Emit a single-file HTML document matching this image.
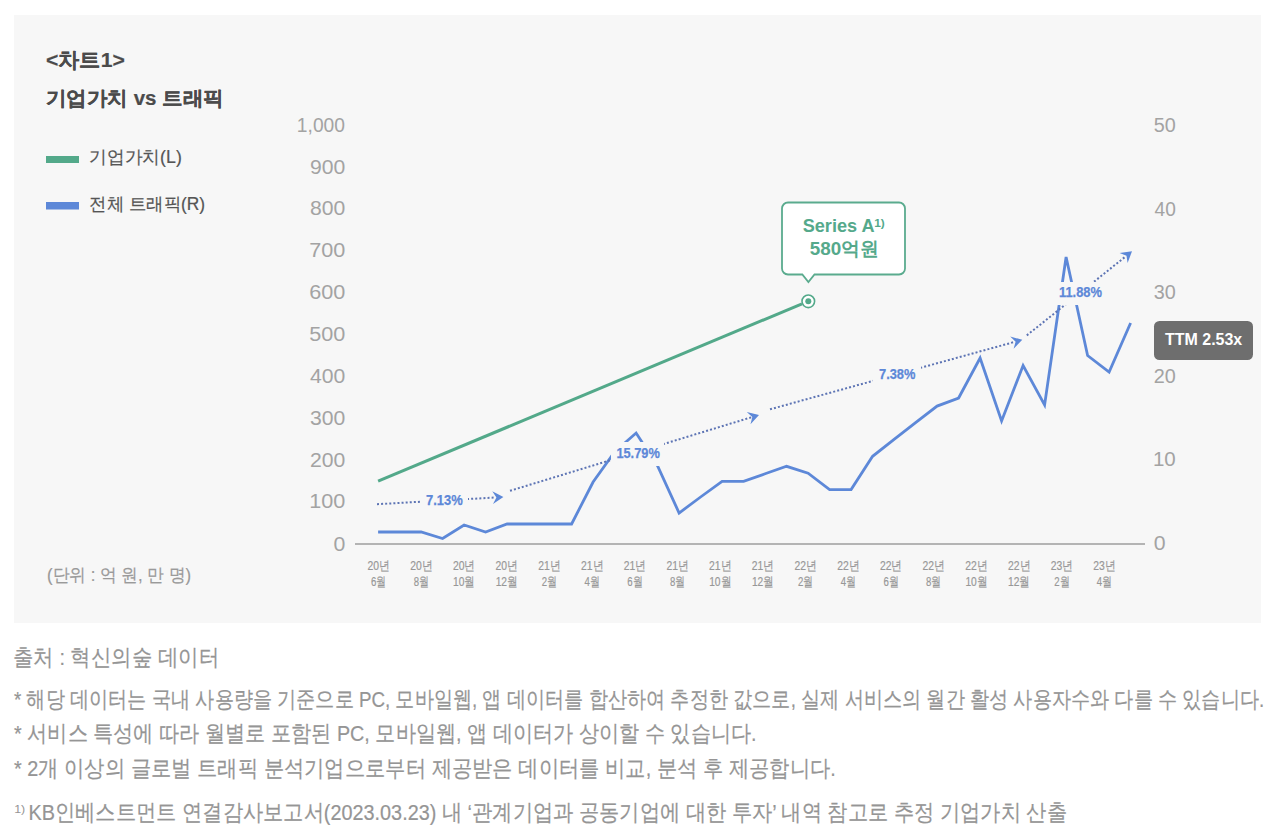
<!DOCTYPE html>
<html><head><meta charset="utf-8">
<style>
html,body{margin:0;padding:0;background:#fff;}
body{width:1270px;height:840px;position:relative;overflow:hidden;font-family:"Liberation Sans",sans-serif;}
svg{position:absolute;left:0;top:0;}
</style></head>
<body>
<svg width="1270" height="840" viewBox="0 0 1270 840" font-family="Liberation Sans, sans-serif">
<rect x="14" y="15" width="1247" height="608" fill="#f7f7f7"/>
<rect x="46" y="156" width="33" height="7" fill="#53a98a"/>
<rect x="46" y="202" width="33" height="7.5" fill="#5d88d8"/>
<line x1="355" y1="544" x2="1145" y2="544" stroke="#b4b4b4" stroke-width="2"/>
<g font-size="12.5" fill="#979797" stroke="#979797" stroke-width="0.2">
<text x="367.5" y="569.8" textLength="22.3" lengthAdjust="spacingAndGlyphs">20년</text><text x="371.0" y="585.8" textLength="15.3" lengthAdjust="spacingAndGlyphs">6월</text>
<text x="410.2" y="569.8" textLength="22.3" lengthAdjust="spacingAndGlyphs">20년</text><text x="413.7" y="585.8" textLength="15.3" lengthAdjust="spacingAndGlyphs">8월</text>
<text x="452.9" y="569.8" textLength="22.3" lengthAdjust="spacingAndGlyphs">20년</text><text x="453.0" y="585.8" textLength="22.0" lengthAdjust="spacingAndGlyphs">10월</text>
<text x="495.6" y="569.8" textLength="22.3" lengthAdjust="spacingAndGlyphs">20년</text><text x="495.7" y="585.8" textLength="22.0" lengthAdjust="spacingAndGlyphs">12월</text>
<text x="538.3" y="569.8" textLength="22.3" lengthAdjust="spacingAndGlyphs">21년</text><text x="541.8" y="585.8" textLength="15.3" lengthAdjust="spacingAndGlyphs">2월</text>
<text x="581.0" y="569.8" textLength="22.3" lengthAdjust="spacingAndGlyphs">21년</text><text x="584.5" y="585.8" textLength="15.3" lengthAdjust="spacingAndGlyphs">4월</text>
<text x="623.7" y="569.8" textLength="22.3" lengthAdjust="spacingAndGlyphs">21년</text><text x="627.2" y="585.8" textLength="15.3" lengthAdjust="spacingAndGlyphs">6월</text>
<text x="666.4" y="569.8" textLength="22.3" lengthAdjust="spacingAndGlyphs">21년</text><text x="669.9" y="585.8" textLength="15.3" lengthAdjust="spacingAndGlyphs">8월</text>
<text x="709.1" y="569.8" textLength="22.3" lengthAdjust="spacingAndGlyphs">21년</text><text x="709.2" y="585.8" textLength="22.0" lengthAdjust="spacingAndGlyphs">10월</text>
<text x="751.8" y="569.8" textLength="22.3" lengthAdjust="spacingAndGlyphs">21년</text><text x="751.9" y="585.8" textLength="22.0" lengthAdjust="spacingAndGlyphs">12월</text>
<text x="794.5" y="569.8" textLength="22.3" lengthAdjust="spacingAndGlyphs">22년</text><text x="798.0" y="585.8" textLength="15.3" lengthAdjust="spacingAndGlyphs">2월</text>
<text x="837.2" y="569.8" textLength="22.3" lengthAdjust="spacingAndGlyphs">22년</text><text x="840.7" y="585.8" textLength="15.3" lengthAdjust="spacingAndGlyphs">4월</text>
<text x="879.9" y="569.8" textLength="22.3" lengthAdjust="spacingAndGlyphs">22년</text><text x="883.4" y="585.8" textLength="15.3" lengthAdjust="spacingAndGlyphs">6월</text>
<text x="922.6" y="569.8" textLength="22.3" lengthAdjust="spacingAndGlyphs">22년</text><text x="926.1" y="585.8" textLength="15.3" lengthAdjust="spacingAndGlyphs">8월</text>
<text x="965.3" y="569.8" textLength="22.3" lengthAdjust="spacingAndGlyphs">22년</text><text x="965.4" y="585.8" textLength="22.0" lengthAdjust="spacingAndGlyphs">10월</text>
<text x="1008.0" y="569.8" textLength="22.3" lengthAdjust="spacingAndGlyphs">22년</text><text x="1008.1" y="585.8" textLength="22.0" lengthAdjust="spacingAndGlyphs">12월</text>
<text x="1050.7" y="569.8" textLength="22.3" lengthAdjust="spacingAndGlyphs">23년</text><text x="1054.2" y="585.8" textLength="15.3" lengthAdjust="spacingAndGlyphs">2월</text>
<text x="1093.3" y="569.8" textLength="22.3" lengthAdjust="spacingAndGlyphs">23년</text><text x="1096.8" y="585.8" textLength="15.3" lengthAdjust="spacingAndGlyphs">4월</text>
</g>
<polyline fill="none" stroke="#5d88d8" stroke-width="2.8" stroke-linejoin="miter" points="378.1,532 399.6,532 421.1,532 442.6,538.5 464.1,525 485.6,532 507.1,524 528.6,524 550.1,524 571.6,524 593.1,482 614.6,452 636.1,433 657.6,466 679.1,513 700.6,497 722.1,481.4 743.6,481.4 765.1,473.8 786.6,466.3 808.1,473.2 829.6,489.6 851.1,489.6 872.6,456.3 894.1,439.4 915.6,422.6 937.1,406.1 958.6,398 980.1,358 1001.6,421 1023.1,365.6 1044.6,405 1066.1,257 1087.6,355.5 1109.1,372 1130.6,323"/>
<line x1="377.0" y1="504.2" x2="495.4" y2="497.5" stroke="#5d74b4" stroke-width="2" stroke-dasharray="2 2.1"/>
<polygon fill="#5d88d8" points="503.4,497.1 493.0,504.1 496.4,497.5 492.3,491.3"/>
<line x1="510.0" y1="490.8" x2="751.3" y2="417.3" stroke="#5d74b4" stroke-width="2" stroke-dasharray="2 2.1"/>
<polygon fill="#5d88d8" points="759.0,415.0 750.5,424.3 752.3,417.0 746.8,412.0"/>
<line x1="770.0" y1="409.3" x2="1014.6" y2="341.9" stroke="#5d74b4" stroke-width="2" stroke-dasharray="2 2.1"/>
<polygon fill="#5d88d8" points="1022.3,339.8 1013.6,348.8 1015.6,341.7 1010.2,336.5"/>
<line x1="1026.8" y1="335.4" x2="1125.8" y2="256.3" stroke="#5d74b4" stroke-width="2" stroke-dasharray="2 2.1"/>
<polygon fill="#5d88d8" points="1132.0,251.3 1127.6,263.0 1126.5,255.7 1119.6,253.0"/>
<g font-size="14" font-weight="bold" fill="#5d88d8" stroke="#5d88d8" stroke-width="0.25">
<rect x="420" y="491" width="48" height="19" fill="#f7f7f7" stroke="none"/><text x="426" y="505" textLength="36.69999999999999" lengthAdjust="spacingAndGlyphs">7.13%</text>
<rect x="611" y="442" width="53" height="24" fill="#f7f7f7" stroke="none"/><text x="616.4" y="458.4" textLength="43.39999999999998" lengthAdjust="spacingAndGlyphs">15.79%</text>
<rect x="873" y="364" width="48" height="20" fill="#f7f7f7" stroke="none"/><text x="879" y="379" textLength="36.39999999999998" lengthAdjust="spacingAndGlyphs">7.38%</text>
<rect x="1053" y="282" width="55" height="23" fill="#f7f7f7" stroke="none"/><text x="1059" y="297" textLength="43" lengthAdjust="spacingAndGlyphs">11.88%</text>
</g>
<line x1="378.1" y1="481.2" x2="802" y2="303.8" stroke="#53a98a" stroke-width="3"/>
<circle cx="808.3" cy="301.3" r="6.3" fill="#fff" stroke="#53a98a" stroke-width="1.6"/>
<circle cx="808.3" cy="301.3" r="3" fill="#53a98a"/>
<path d="M788,202.5 H899 a6,6 0 0 1 6,6 V268.5 a6,6 0 0 1 -6,6 H814.5 L808.4,282 L802.3,274.5 H788 a6,6 0 0 1 -6,-6 V208.5 a6,6 0 0 1 6,-6 Z" fill="#fff" stroke="#5aab8e" stroke-width="1.8"/>
<rect x="1154" y="321" width="99" height="39" rx="5.5" fill="#6e6e6e"/>
<text id="t1" x="45.96" y="66.68" font-size="21" font-weight="bold" fill="#4b4b4b" stroke="#4b4b4b" stroke-width="0.2" textLength="78.82" lengthAdjust="spacingAndGlyphs">&lt;차트1&gt;</text>
<text id="t2" x="45.96" y="105.22" font-size="20" font-weight="bold" fill="#4b4b4b" stroke="#4b4b4b" stroke-width="0.2" textLength="177.70" lengthAdjust="spacingAndGlyphs">기업가치 vs 트래픽</text>
<text id="lg1" x="89.18" y="163.00" font-size="18" font-weight="normal" fill="#555555" stroke="#555555" stroke-width="0.2" textLength="92.62" lengthAdjust="spacingAndGlyphs">기업가치(L)</text>
<text id="lg2" x="89.18" y="210.10" font-size="18" font-weight="normal" fill="#555555" stroke="#555555" stroke-width="0.2" textLength="115.86" lengthAdjust="spacingAndGlyphs">전체 트래픽(R)</text>
<text id="unit" x="46.96" y="581.34" font-size="18" font-weight="normal" fill="#9a9a9a" stroke="#9a9a9a" stroke-width="0.2" textLength="144.08" lengthAdjust="spacingAndGlyphs">(단위 : 억 원, 만 명)</text>
<text id="f0" x="12.94" y="664.98" font-size="22.5" font-weight="normal" fill="#959595" stroke="#959595" stroke-width="0.2" textLength="206.22" lengthAdjust="spacingAndGlyphs">출처 : 혁신의숲 데이터</text>
<text id="f1" x="14.00" y="707.10" font-size="22.5" font-weight="normal" fill="#959595" stroke="#959595" stroke-width="0.2" textLength="1250.10" lengthAdjust="spacingAndGlyphs">* 해당 데이터는 국내 사용량을 기준으로 PC, 모바일웹, 앱 데이터를 합산하여 추정한 값으로, 실제 서비스의 월간 활성 사용자수와 다를 수 있습니다.</text>
<text id="f2" x="14.00" y="741.18" font-size="22.5" font-weight="normal" fill="#959595" stroke="#959595" stroke-width="0.2" textLength="742.60" lengthAdjust="spacingAndGlyphs">* 서비스 특성에 따라 월별로 포함된 PC, 모바일웹, 앱 데이터가 상이할 수 있습니다.</text>
<text id="f3" x="14.00" y="776.20" font-size="22.5" font-weight="normal" fill="#959595" stroke="#959595" stroke-width="0.2" textLength="821.84" lengthAdjust="spacingAndGlyphs">* 2개 이상의 글로벌 트래픽 분석기업으로부터 제공받은 데이터를 비교, 분석 후 제공합니다.</text>
<text id="f4a" x="14.20" y="813.48" font-size="11" font-weight="normal" fill="#959595" textLength="11.00" lengthAdjust="spacingAndGlyphs">1)</text>
<text id="f4b" x="28.48" y="819.60" font-size="22.5" font-weight="normal" fill="#959595" stroke="#959595" stroke-width="0.2" textLength="1038.40" lengthAdjust="spacingAndGlyphs">KB인베스트먼트 연결감사보고서(2023.03.23) 내 ‘관계기업과 공동기업에 대한 투자’ 내역 참고로 추정 기업가치 산출</text>
<text id="ttm" x="1165.00" y="344.52" font-size="16" font-weight="bold" fill="#ffffff" textLength="77.24" lengthAdjust="spacingAndGlyphs">TTM 2.53x</text>
<text id="sa" x="802.70" y="231.68" font-size="19" font-weight="bold" fill="#55a98b" textLength="71.82" lengthAdjust="spacingAndGlyphs">Series A</text>
<text id="sa1" x="874.20" y="227.14" font-size="10" font-weight="bold" fill="#55a98b" textLength="10.56" lengthAdjust="spacingAndGlyphs">1)</text>
<text id="sa2" x="809.72" y="254.50" font-size="19" font-weight="bold" fill="#55a98b" textLength="69.14" lengthAdjust="spacingAndGlyphs">580억원</text>
<text id="ly0" x="296.86" y="131.94" font-size="20" font-weight="normal" fill="#a3a3a3" textLength="48.10" lengthAdjust="spacingAndGlyphs">1,000</text>
<text id="ly1" x="309.98" y="173.73" font-size="20" font-weight="normal" fill="#a3a3a3" textLength="35.30" lengthAdjust="spacingAndGlyphs">900</text>
<text id="ly2" x="309.98" y="215.34" font-size="20" font-weight="normal" fill="#a3a3a3" textLength="35.30" lengthAdjust="spacingAndGlyphs">800</text>
<text id="ly3" x="309.18" y="256.95" font-size="20" font-weight="normal" fill="#a3a3a3" textLength="36.10" lengthAdjust="spacingAndGlyphs">700</text>
<text id="ly4" x="309.18" y="299.36" font-size="20" font-weight="normal" fill="#a3a3a3" textLength="36.10" lengthAdjust="spacingAndGlyphs">600</text>
<text id="ly5" x="309.18" y="340.97" font-size="20" font-weight="normal" fill="#a3a3a3" textLength="36.10" lengthAdjust="spacingAndGlyphs">500</text>
<text id="ly6" x="309.98" y="382.58" font-size="20" font-weight="normal" fill="#a3a3a3" textLength="35.30" lengthAdjust="spacingAndGlyphs">400</text>
<text id="ly7" x="309.98" y="424.99" font-size="20" font-weight="normal" fill="#a3a3a3" textLength="35.30" lengthAdjust="spacingAndGlyphs">300</text>
<text id="ly8" x="309.98" y="466.60" font-size="20" font-weight="normal" fill="#a3a3a3" textLength="35.30" lengthAdjust="spacingAndGlyphs">200</text>
<text id="ly9" x="309.18" y="508.21" font-size="20" font-weight="normal" fill="#a3a3a3" textLength="36.10" lengthAdjust="spacingAndGlyphs">100</text>
<text id="ly10" x="333.46" y="550.62" font-size="20" font-weight="normal" fill="#a3a3a3" textLength="11.82" lengthAdjust="spacingAndGlyphs">0</text>
<text id="ry0" x="1153.72" y="131.84" font-size="20" font-weight="normal" fill="#a3a3a3" textLength="22.04" lengthAdjust="spacingAndGlyphs">50</text>
<text id="ry1" x="1154.52" y="215.86" font-size="20" font-weight="normal" fill="#a3a3a3" textLength="21.24" lengthAdjust="spacingAndGlyphs">40</text>
<text id="ry2" x="1153.72" y="299.08" font-size="20" font-weight="normal" fill="#a3a3a3" textLength="22.04" lengthAdjust="spacingAndGlyphs">30</text>
<text id="ry3" x="1153.72" y="383.10" font-size="20" font-weight="normal" fill="#a3a3a3" textLength="22.04" lengthAdjust="spacingAndGlyphs">20</text>
<text id="ry4" x="1152.92" y="466.32" font-size="20" font-weight="normal" fill="#a3a3a3" textLength="22.84" lengthAdjust="spacingAndGlyphs">10</text>
<text id="ry5" x="1153.72" y="550.34" font-size="20" font-weight="normal" fill="#a3a3a3" textLength="11.82" lengthAdjust="spacingAndGlyphs">0</text>
</svg>
</body></html>
